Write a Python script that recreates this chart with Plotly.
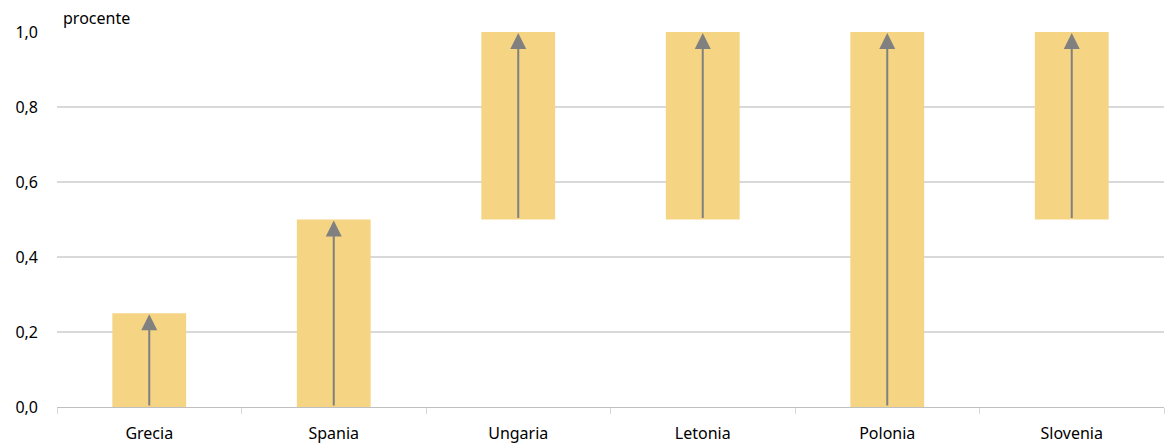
import plotly.graph_objects as go

categories = ["Grecia", "Spania", "Ungaria", "Letonia", "Polonia", "Slovenia"]
bases = [0.0, 0.0, 0.5, 0.5, 0.0, 0.5]
tops = [0.25, 0.5, 1.0, 1.0, 1.0, 1.0]
y_ticks = [0.0, 0.2, 0.4, 0.6, 0.8, 1.0]

font = "Noto Sans, Open Sans, sans-serif"

fig = go.Figure()
fig.add_trace(go.Bar(
    x=categories,
    y=[t - b for t, b in zip(tops, bases)],
    base=bases,
    width=0.4,
    marker=dict(color="#F5D483", line=dict(width=0)),
    hoverinfo="skip",
))

for c, b, t in zip(categories, bases, tops):
    fig.add_annotation(
        x=c, y=t, ax=c, ay=b,
        xref="x", yref="y", axref="x", ayref="y",
        text="", showarrow=True,
        arrowhead=2, arrowsize=1.6, arrowwidth=2,
        arrowcolor="#808080", standoff=1,
    )

fig.add_annotation(
    x=0.004, y=1.0, xref="paper", yref="paper",
    xanchor="left", yanchor="bottom", yshift=1,
    text="procente", showarrow=False,
    font=dict(family=font, size=16, color="#000000"),
)

fig.update_layout(
    width=1165, height=445,
    margin=dict(l=57, r=1, t=32, b=38),
    plot_bgcolor="white", paper_bgcolor="white",
    separators=",.",
    showlegend=False,
    font=dict(family=font, size=16, color="#000000"),
    xaxis=dict(
        type="category", range=[-0.5, 5.5],
        showgrid=False, showline=True, linecolor="#BFBFBF", linewidth=1,
        ticks="outside", tickson="boundaries", ticklen=6, tickcolor="#D9D9D9",
        ticklabelstandoff=12,
        tickfont=dict(family=font, size=16),
    ),
    yaxis=dict(
        range=[0, 1.0], tickvals=y_ticks, tickformat=".1f",
        showgrid=True, gridcolor="#D9D9D9", gridwidth=1.5,
        zeroline=False, showline=False,
        ticklabelstandoff=18,
        tickfont=dict(family=font, size=16),
    ),
)

fig.write_html("out.html")
